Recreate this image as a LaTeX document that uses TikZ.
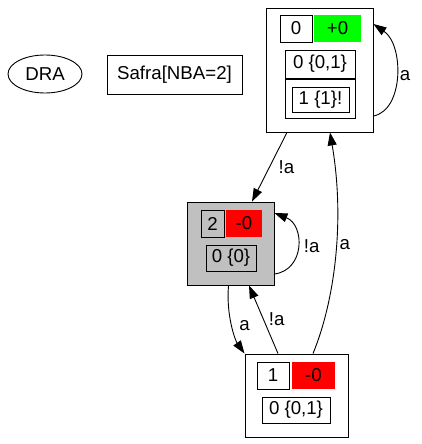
\documentclass[tikz,border=0pt]{standalone}
\usepackage{fontspec}
\setmainfont{Liberation Sans}
\usetikzlibrary{arrows.meta,shapes.geometric}
\definecolor{accgreen}{RGB}{0,255,0}
\definecolor{statgray}{RGB}{192,192,192}

\begin{document}
\begin{tikzpicture}
[
    x=1pt, y=-1pt,
    every node/.style={font=\fontsize{18.67}{22}\selectfont, inner sep=0pt},
    wh/.style args={#1/#2}{minimum width=#1pt, minimum height=#2pt},
    cell/.style={draw, line width=0.9pt, rectangle},
    trans/.style={line width=0.9pt, -{Triangle[length=13pt,width=9pt]}},
    lbl/.style={inner sep=3pt},
]
\useasboundingbox (0,0) rectangle (422,444);
\node [draw, line width=0.9pt, ellipse, wh=74/38] (dra) at (45,74) {DRA};
\node [cell, wh=135/39] (safra) at (174.5,74.5) {Safra[NBA=2]};

\node [cell, wh=107/124] (state0) at (319.5,70) {};
\node [cell, wh=32/27] (s0id) at (296,28.5) {0};
\node [wh=47/27, fill=accgreen] (s0acc) at (337.5,28.5) {+0};
\node [cell, wh=70/28] (s0top) at (320,64) {0 \{0,1\}};
\node [cell, wh=70/39] (s0sub) at (320,98.5) {};
\node [cell, wh=57/25] (s0leaf) at (320.5,99.5) {1 \{1\}!};

\node [cell, wh=87/83, fill=statgray] (state2) at (230.5,243.5) {};
\node [cell, wh=23/27] (s2id) at (212.5,223.5) {2};
\node [wh=36/27, fill=red] (s2acc) at (244,223.5) {-0};
\node [cell, wh=50/26] (s2top) at (231,258) {0 \{0\}};

\node [cell, wh=103/83] (state1) at (296.5,395.5) {};
\node [cell, wh=32/27] (s1id) at (273,375.5) {1};
\node [wh=43/27, fill=red] (s1acc) at (313.5,375.5) {-0};
\node [cell, wh=68/26] (s1top) at (296,410) {0 \{0,1\}};

\draw [trans] ([xshift=-32.5pt]state0.south) -- node[lbl, pos=0.5, xshift=17pt] {!a} ([xshift=21.5pt]state2.north);
\draw [trans] ([xshift=16.5pt]state1.north) .. controls (335,300) and (345,220) .. node[lbl, pos=0.55, anchor=west] {a} ([xshift=10.5pt]state0.south);
\draw [trans] ([xshift=-2pt]state2.south) .. controls (226,315) and (235,340) .. node[lbl, pos=0.5, anchor=west, xshift=4pt] {a} ([xshift=-52pt]state1.north);
\draw [trans] ([xshift=-18.5pt]state1.north) -- node[lbl, pos=0.5, anchor=west, xshift=2pt] {!a} ([xshift=18.5pt]state2.south);
\draw [trans] ([yshift=-46pt]state0.east) .. controls (404,110) and (404,45) .. node[lbl, anchor=west] {a} ([yshift=46pt]state0.east);
\draw [trans] ([yshift=-30.5pt]state2.east) .. controls (305,270) and (305,225) .. node[lbl, anchor=west, xshift=3pt] {!a} ([yshift=30.5pt]state2.east);
\end{tikzpicture}
\end{document}
